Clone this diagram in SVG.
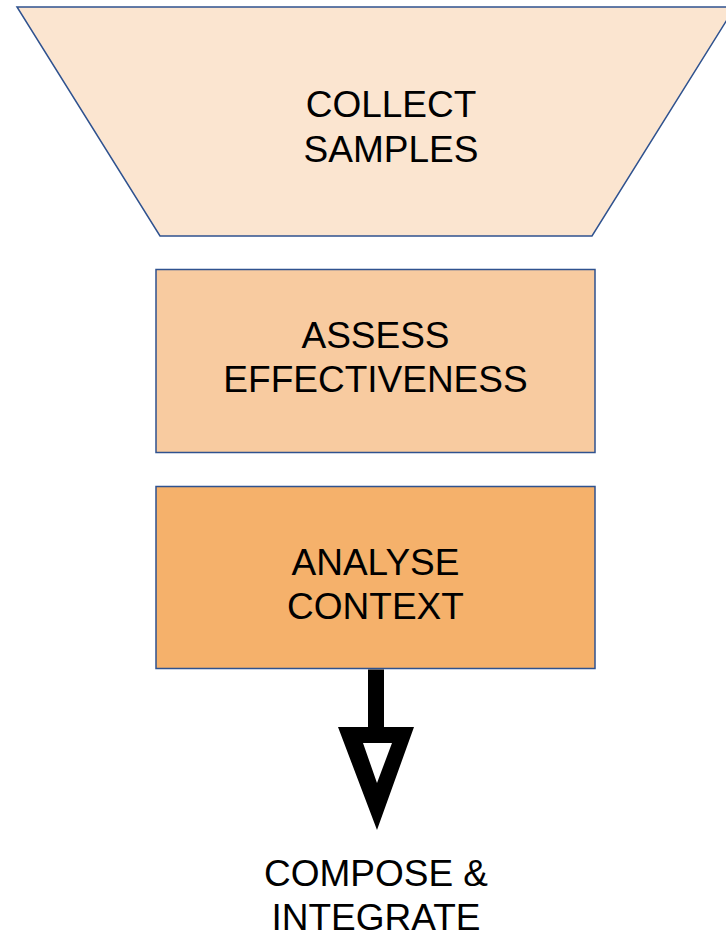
<svg xmlns="http://www.w3.org/2000/svg" width="726" height="931" viewBox="0 0 726 931">
<style>
.node{stroke:#2F528F;stroke-width:1.5}
.lbl{font-family:"Liberation Sans",Arial,sans-serif;font-size:37px;fill:#000;text-anchor:middle}
</style>
<rect width="726" height="931" fill="#fff"/>
<g id="collect">
<polygon class="node" points="17,7 735,7 592,236 160,236" fill="#FBE5D0"/>
<text class="lbl" x="391" y="117">COLLECT</text>
<text class="lbl" x="391" y="162">SAMPLES</text>
</g>
<g id="assess">
<rect class="node" x="156" y="269.5" width="439" height="183" fill="#F8CBA0"/>
<text class="lbl" x="375.5" y="348">ASSESS</text>
<text class="lbl" x="375.5" y="392">EFFECTIVENESS</text>
</g>
<g id="analyse">
<rect class="node" x="156" y="486.5" width="439" height="182" fill="#F5B16B"/>
<text class="lbl" x="375.5" y="575">ANALYSE</text>
<text class="lbl" x="375.5" y="619">CONTEXT</text>
</g>
<g id="connectors">
<rect x="368" y="669.5" width="16" height="59" fill="#000"/>
<path fill="#000" fill-rule="evenodd" d="M338,727 L414,727 L377,830 Z M363,743 L392,743 L377,783 Z"/>
</g>
<g id="compose">
<text class="lbl" x="376" y="886">COMPOSE &amp;</text>
<text class="lbl" x="376" y="930">INTEGRATE</text>
</g>
</svg>
